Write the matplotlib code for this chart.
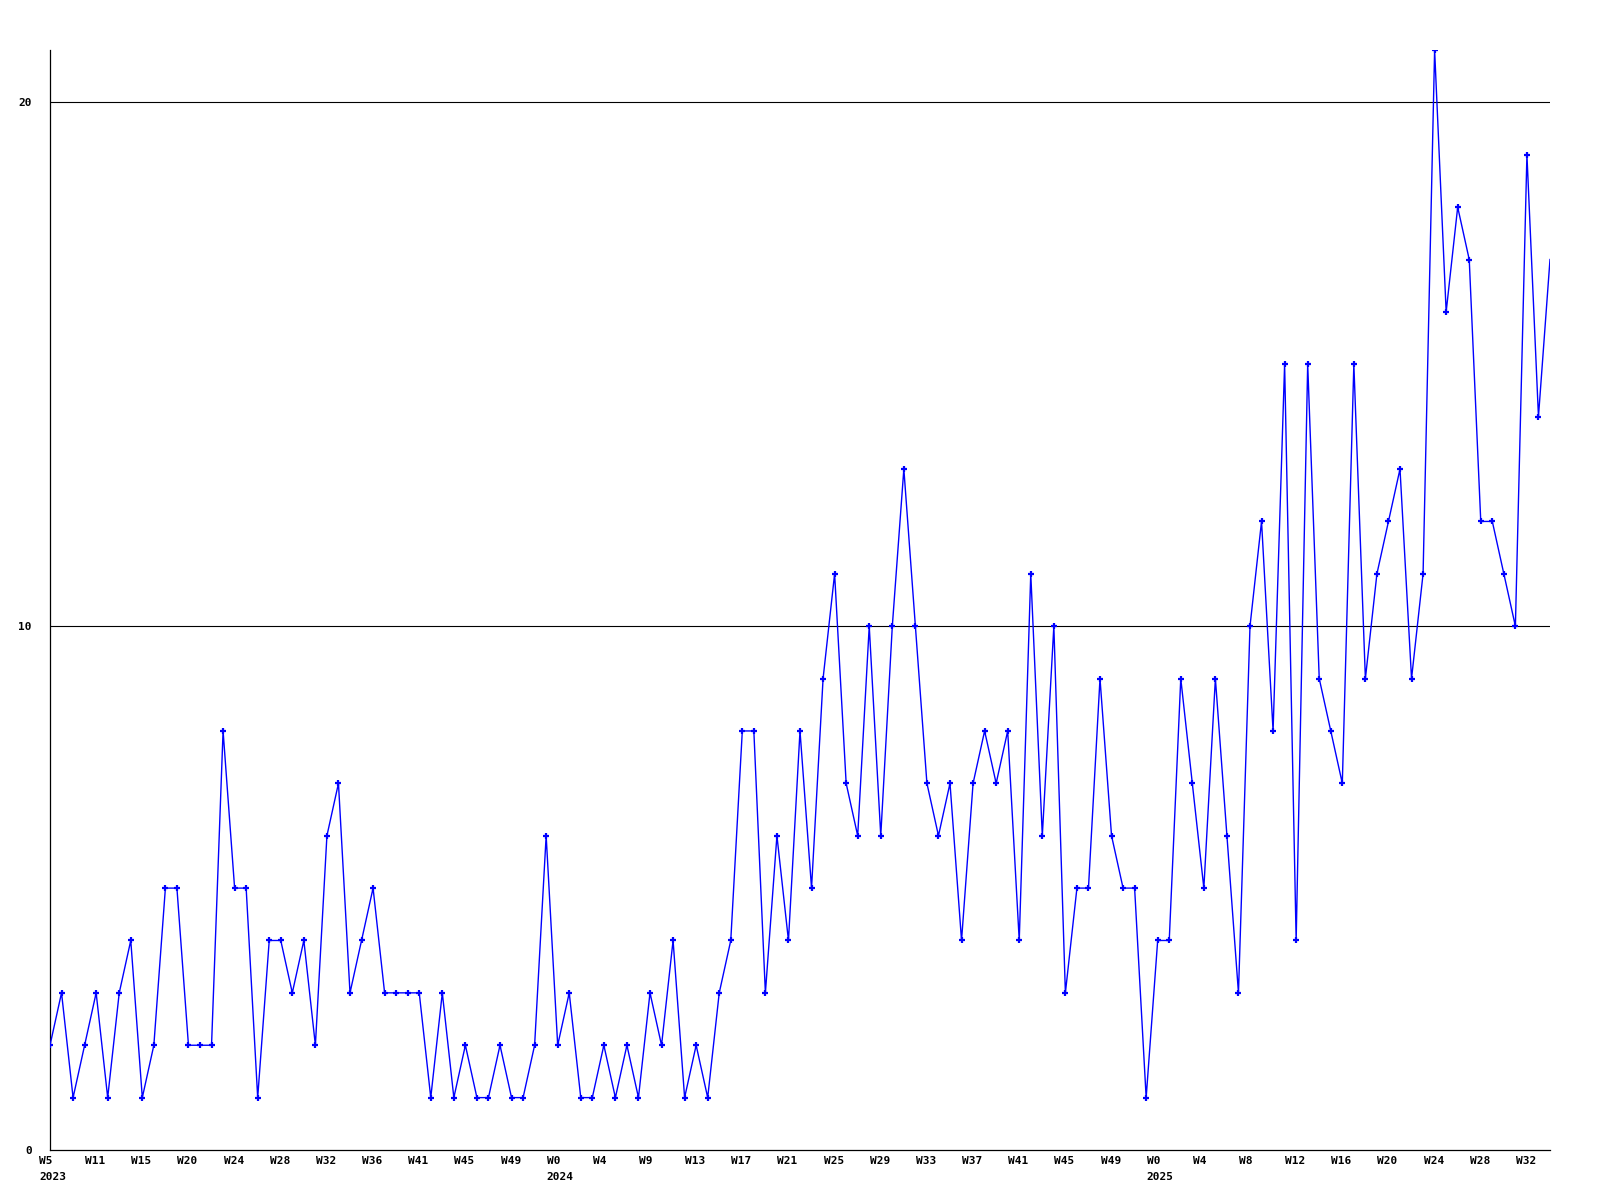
import matplotlib
matplotlib.use('Agg')
import matplotlib.pyplot as plt
import matplotlib.transforms as mtransforms

# weekly counts, W5 2023 .. W34 2025
values = [2, 3, 1, 2, 3, 1, 3, 4, 1, 2, 5, 5, 2, 2, 2, 8, 5, 5, 1, 4,
          4, 3, 4, 2, 6, 7, 3, 4, 5, 3, 3, 3, 3, 1, 3, 1, 2, 1, 1, 2,
          1, 1, 2, 6, 2, 3, 1, 1, 2, 1, 2, 1, 3, 2, 4, 1, 2, 1, 3, 4,
          8, 8, 3, 6, 4, 8, 5, 9, 11, 7, 6, 10, 6, 10, 13, 10, 7, 6, 7, 4,
          7, 8, 7, 8, 4, 11, 6, 10, 3, 5, 5, 9, 6, 5, 5, 1, 4, 4, 9, 7,
          5, 9, 6, 3, 10, 12, 8, 15, 4, 15, 9, 8, 7, 15, 9, 11, 12, 13, 9, 11,
          21, 16, 18, 17, 12, 12, 11, 10, 19, 14, 17]

week_labels = ['W5', 'W11', 'W15', 'W20', 'W24', 'W28', 'W32', 'W36', 'W41', 'W45', 'W49',
               'W0', 'W4', 'W9', 'W13', 'W17', 'W21', 'W25', 'W29', 'W33', 'W37', 'W41',
               'W45', 'W49', 'W0', 'W4', 'W8', 'W12', 'W16', 'W20', 'W24', 'W28', 'W32']
tick_step = 4
year_labels = ['2023', '2024', '2025']
year_pos = [0, 44, 96]
y_ticks = [0, 10, 20]

font = dict(family='DejaVu Sans Mono', weight='bold', size=8)

fig = plt.figure(figsize=(16, 12), dpi=100)
ax = fig.add_axes([50/1600, 1 - 1150/1200, (1550 - 50)/1600, 1100/1200])

x = list(range(len(values)))
for yv in y_ticks[1:]:
    ax.axhline(yv, color='black', lw=0.8, zorder=1)
ax.plot(x, values, color='#0000ff', lw=1.0, marker='+', ms=4, mew=1.6,
        markevery=list(range(len(values) - 1)), zorder=3)

ax.set_xlim(0, len(values) - 1)
ax.set_ylim(0, 21)
for s in ['top', 'right']:
    ax.spines[s].set_visible(False)
for s in ['left', 'bottom']:
    ax.spines[s].set_linewidth(0.9)
    ax.spines[s].set_color('black')

ax.set_yticks(y_ticks)
ax.set_yticklabels([str(v) for v in y_ticks], **font)
ax.tick_params(axis='y', length=0, pad=13)

ax.set_xticks(list(range(0, tick_step * len(week_labels), tick_step)))
ax.set_xticklabels(week_labels, ha='left', **font)
ax.tick_params(axis='x', length=0, pad=4)
shift = mtransforms.ScaledTranslation(-11/100, 0, fig.dpi_scale_trans)
for lab in ax.get_xticklabels():
    lab.set_transform(lab.get_transform() + shift)

trans = mtransforms.blended_transform_factory(ax.transData, ax.transAxes) + shift
for pos, yr in zip(year_pos, year_labels):
    ax.text(pos, -0.0245, yr, transform=trans, ha='left', va='center', **font)

plt.savefig('out.png', dpi=100, facecolor='white')
